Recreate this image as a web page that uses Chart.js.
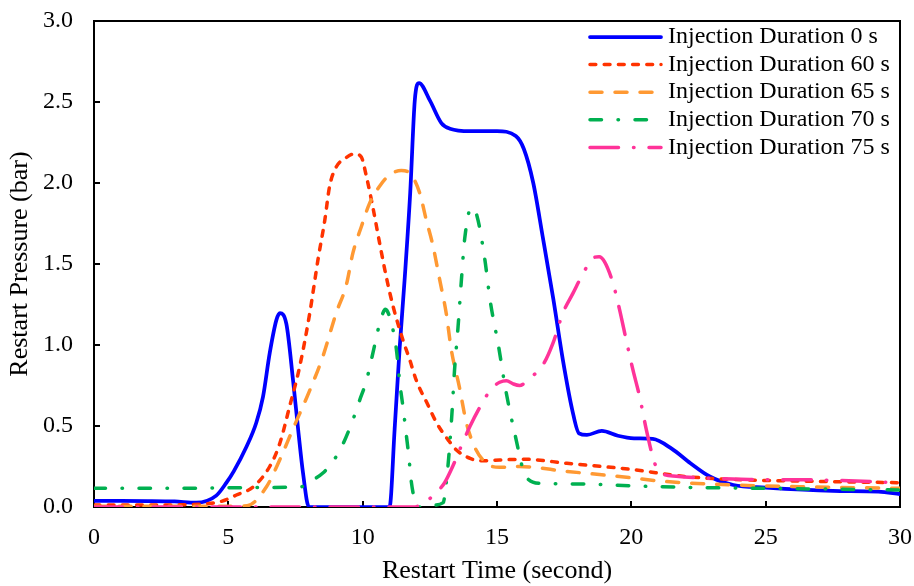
<!DOCTYPE html>
<html>
<head>
<meta charset="utf-8">
<script src="https://cdn.jsdelivr.net/npm/chart.js@4.4.0/dist/chart.umd.min.js"></script>
<style>
body { margin: 0; background: #fff; }
</style>
</head>
<body>
<canvas id="line_chart" width="914" height="586"></canvas>
<script>
// series names (legend order)
var seriesNames = ["Injection Duration 0 s", "Injection Duration 60 s", "Injection Duration 65 s", "Injection Duration 70 s", "Injection Duration 75 s"];

// 0 s
var time0 = [0, 1, 2, 3, 3.8, 4.55, 4.93, 5.2, 5.67, 6.04, 6.29, 6.54, 6.79, 6.92, 7.16, 7.41, 7.6, 7.78, 8.0, 9, 10, 11.0, 11.19, 11.38, 11.56, 11.77, 11.94, 12.1, 12.5, 12.93, 13.25, 14, 15, 15.7, 16.0, 16.35, 16.7, 17.1, 17.45, 17.8, 18.05, 18.35, 18.9, 19.5, 20.1, 20.8, 21.5, 22.2, 22.9, 23.8, 25, 27.5, 29.2, 30];
var pres0 = [0.038, 0.038, 0.037, 0.034, 0.027, 0.07, 0.15, 0.22, 0.37, 0.52, 0.68, 0.95, 1.155, 1.196, 1.13, 0.78, 0.476, 0.21, 0, 0, 0, 0, 0.48, 0.99, 1.40, 1.94, 2.51, 2.617, 2.51, 2.37, 2.335, 2.32, 2.32, 2.29, 2.21, 2.0, 1.67, 1.28, 0.91, 0.6, 0.455, 0.445, 0.47, 0.44, 0.424, 0.42, 0.36, 0.27, 0.19, 0.136, 0.12, 0.10, 0.095, 0.08];

// 60 s
var time60 = [0, 2, 3.5, 4.7, 5.3, 5.93, 6.54, 6.91, 7.28, 7.66, 8.03, 8.34, 8.59, 8.77, 9.02, 9.33, 9.7, 9.95, 10.14, 10.38, 10.63, 10.88, 11.13, 11.5, 11.75, 12.0, 12.4, 12.75, 13.2, 13.5, 14.0, 14.4, 15.1, 16.0, 17.6, 20.1, 21.9, 23.8, 26.3, 30];
var pres60 = [0.012, 0.012, 0.015, 0.033, 0.074, 0.125, 0.25, 0.39, 0.62, 0.87, 1.196, 1.53, 1.77, 1.98, 2.10, 2.15, 2.18, 2.16, 2.04, 1.85, 1.63, 1.42, 1.24, 1.03, 0.91, 0.78, 0.64, 0.52, 0.41, 0.35, 0.30, 0.285, 0.29, 0.295, 0.27, 0.23, 0.19, 0.17, 0.16, 0.15];

// 65 s
var time65 = [0, 3, 5.0, 5.7, 6.42, 6.91, 7.4, 8.03, 8.52, 9.02, 9.39, 9.64, 9.95, 10.26, 10.63, 11.0, 11.44, 11.81, 12.12, 12.37, 12.62, 12.87, 13.11, 13.3, 13.6, 13.86, 14.17, 14.6, 15.1, 15.84, 17.58, 19.44, 21.3, 23.78, 26.26, 30];
var pres65 = [0.005, 0.005, 0.005, 0.008, 0.125, 0.29, 0.48, 0.72, 0.93, 1.2, 1.37, 1.57, 1.73, 1.876, 1.98, 2.05, 2.077, 2.05, 1.94, 1.77, 1.61, 1.40, 1.196, 0.97, 0.74, 0.52, 0.37, 0.27, 0.245, 0.25, 0.22, 0.19, 0.157, 0.136, 0.125, 0.115];

// 70 s
var time70 = [0, 3, 6, 7.7, 8.15, 8.52, 8.89, 9.27, 9.64, 9.89, 10.14, 10.38, 10.63, 10.85, 11.09, 11.25, 11.38, 11.53, 11.62, 11.72, 11.8, 11.94, 12.1, 12.5, 13.0, 13.09, 13.2, 13.32, 13.42, 13.55, 13.67, 13.8, 14.05, 14.25, 14.54, 14.75, 15.06, 15.32, 15.66, 16.07, 16.6, 18.2, 20.06, 22.54, 25.02, 27.5, 30];
var pres70 = [0.115, 0.115, 0.12, 0.125, 0.167, 0.21, 0.28, 0.39, 0.54, 0.66, 0.78, 0.95, 1.13, 1.22, 1.12, 0.98, 0.77, 0.58, 0.45, 0.31, 0.17, 0.04, 0.0, 0.01, 0.027, 0.12, 0.3, 0.57, 0.846, 1.11, 1.39, 1.66, 1.85, 1.80, 1.536, 1.27, 0.99, 0.727, 0.455, 0.19, 0.146, 0.142, 0.13, 0.12, 0.115, 0.11, 0.105];

// 75 s
var time75 = [0, 5, 10, 11.9, 12.24, 12.68, 13.05, 13.35, 13.73, 14.0, 14.48, 14.79, 15.1, 15.35, 15.6, 15.84, 16.22, 16.71, 17.08, 17.45, 17.83, 18.2, 18.57, 18.8, 19.0, 19.32, 19.56, 19.81, 20.06, 20.31, 20.56, 20.87, 21.1, 21.67, 22.54, 24.4, 26.9, 30];
var pres75 = [0, 0, 0, 0, 0.02, 0.08, 0.15, 0.25, 0.40, 0.50, 0.65, 0.73, 0.77, 0.78, 0.76, 0.75, 0.795, 0.877, 1.01, 1.196, 1.32, 1.44, 1.536, 1.545, 1.515, 1.38, 1.22, 1.03, 0.846, 0.68, 0.476, 0.27, 0.21, 0.19, 0.18, 0.17, 0.167, 0.15];

var serif = "'Liberation Serif', 'Times New Roman', serif";

function pts(t, p) {
    return t.map(function (v, i) { return { x: v, y: p[i] }; });
}

// stop chart.js from shrinking the plot for label overflow
function noPad(s) {
    s.paddingTop = 0;
    s.paddingBottom = 0;
    s.paddingLeft = 0;
    s.paddingRight = 0;
}

// frame box + inward tick marks, drawn under the lines
var framePlugin = {
    id: 'frame',
    beforeDatasetsDraw: function (chart) {
        var c = chart.ctx, a = chart.chartArea;
        var xs = chart.scales.x, ys = chart.scales.y;
        c.save();
        c.strokeStyle = '#000';
        c.lineWidth = 2;
        c.strokeRect(a.left, a.top, a.right - a.left, a.bottom - a.top);
        c.beginPath();
        xs.ticks.forEach(function (t) {
            var px = Math.round(xs.getPixelForValue(t.value));
            c.moveTo(px, a.bottom);
            c.lineTo(px, a.bottom - 6);
        });
        ys.ticks.forEach(function (t) {
            var py = Math.round(ys.getPixelForValue(t.value));
            c.moveTo(a.left, py);
            c.lineTo(a.left + 6, py);
        });
        c.stroke();
        c.restore();
    }
};

// legend in the upper right, like the spreadsheet one
var legendPlugin = {
    id: 'sideLegend',
    afterDraw: function (chart) {
        var c = chart.ctx;
        var x0 = 590, x1 = 661, y0 = 37, dy = 27.6;
        c.save();
        chart.data.datasets.forEach(function (ds, i) {
            var y = y0 + i * dy;
            c.beginPath();
            c.strokeStyle = ds.borderColor;
            c.lineWidth = ds.borderWidth;
            c.lineCap = 'round';
            c.setLineDash(ds.borderDash || []);
            c.moveTo(x0, y);
            c.lineTo(x1, y);
            c.stroke();
            c.setLineDash([]);
            c.fillStyle = '#000';
            c.font = '24px ' + serif;
            c.textBaseline = 'middle';
            c.textAlign = 'left';
            c.fillText(ds.label, 668, y);
        });
        c.restore();
    }
};

var ctx = document.getElementById('line_chart').getContext('2d');
var chart = new Chart(ctx, {
    type: 'line',
    data: {
        datasets: [{
            label: seriesNames[0],
            data: pts(time0, pres0),
            borderColor: '#0000FF',
            borderWidth: 3.75,
            borderDash: [],
            order: 5
        }, {
            label: seriesNames[1],
            data: pts(time60, pres60),
            borderColor: '#FF3300',
            borderWidth: 3.5,
            borderDash: [5.8, 8.4],
            order: 4
        }, {
            label: seriesNames[2],
            data: pts(time65, pres65),
            borderColor: '#FF9933',
            borderWidth: 3.5,
            borderDash: [12, 13],
            order: 3
        }, {
            label: seriesNames[3],
            data: pts(time70, pres70),
            borderColor: '#00B050',
            borderWidth: 3.5,
            borderDash: [11.5, 16.5, 0.5, 16.5],
            order: 2
        }, {
            label: seriesNames[4],
            data: pts(time75, pres75),
            borderColor: '#FF3399',
            borderWidth: 3.5,
            borderDash: [28.5, 15, 0.5, 15],
            order: 1
        }]
    },
    options: {
        responsive: false,
        animation: false,
        layout: { padding: { left: 0, right: 14, top: 21, bottom: 0 } },
        elements: {
            point: { radius: 0, hoverRadius: 0 },
            line: { cubicInterpolationMode: 'monotone', borderCapStyle: 'round', borderJoinStyle: 'round', fill: false }
        },
        plugins: {
            legend: { display: false },
            tooltip: { enabled: false }
        },
        scales: {
            x: {
                type: 'linear',
                min: 0,
                max: 30,
                grid: { display: false, drawTicks: false },
                border: { display: false },
                ticks: { stepSize: 5, color: '#000', padding: 16, font: { family: serif, size: 24 } },
                title: { display: true, text: 'Restart Time (second)', color: '#000', padding: { top: 0, bottom: -1 }, font: { family: serif, size: 26 } },
                afterFit: function (s) { s.height = 79; noPad(s); }
            },
            y: {
                type: 'linear',
                min: 0,
                max: 3,
                grid: { display: false, drawTicks: false },
                border: { display: false },
                ticks: {
                    stepSize: 0.5, color: '#000', padding: 21, font: { family: serif, size: 24 },
                    callback: function (v) { return v.toFixed(1); }
                },
                title: { display: true, text: 'Restart Pressure (bar)', color: '#000', padding: { top: 5, bottom: 0 }, font: { family: serif, size: 26 } },
                afterFit: function (s) { s.width = 94; noPad(s); }
            }
        }
    },
    plugins: [framePlugin, legendPlugin]
});
</script>
</body>
</html>
